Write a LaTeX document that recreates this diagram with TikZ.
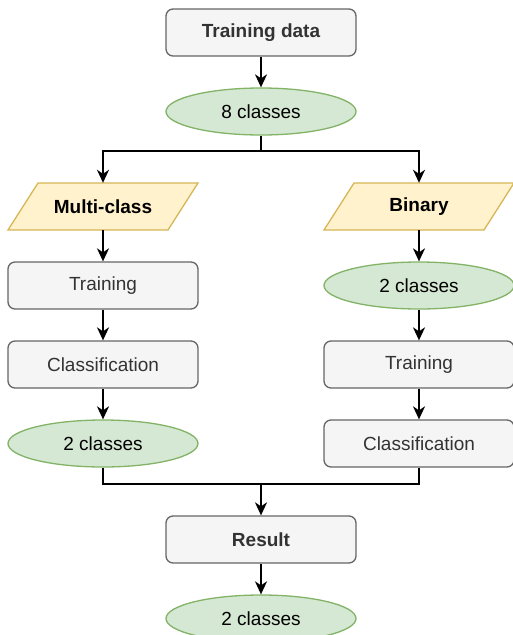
\documentclass[tikz,border=0pt]{standalone}
\usepackage{fontspec}
\setmainfont{Liberation Sans}
\usetikzlibrary{arrows.meta,shapes.geometric}
\definecolor{boxfill}{HTML}{F5F5F5}
\definecolor{boxdraw}{HTML}{666666}
\definecolor{boxtext}{HTML}{333333}
\definecolor{ellfill}{HTML}{D5E8D4}
\definecolor{elldraw}{HTML}{82B366}
\definecolor{parafill}{HTML}{FFF2CC}
\definecolor{paradraw}{HTML}{D6B656}
\begin{document}
\begin{tikzpicture}[x=1pt,y=-1pt,
  base/.style={minimum width=190pt,minimum height=47pt,inner sep=0pt,font=\fontsize{19}{22}\selectfont},
  graybox/.style={base,rectangle,rounded corners=7pt,draw=boxdraw,fill=boxfill,line width=1.3pt,text=boxtext},
  greenell/.style={base,ellipse,draw=elldraw,fill=ellfill,line width=1.3pt,text=black},
  paratext/.style={base,rectangle,font=\fontsize{19}{22}\selectfont\bfseries,text=black},
  parashape/.style={draw=paradraw,fill=parafill,line width=1.3pt},
  conn/.style={line width=1.8pt,black},
  arr/.style={conn,-{Stealth[length=13pt,width=12pt,inset=4pt]}}
]
\useasboundingbox (0,0) rectangle (512,635);
% top
\node[graybox,font=\fontsize{19}{22}\selectfont\bfseries] (td) at (261,32.5) {Training data};
\node[greenell] (c8) at (261,111.5) {8 classes};
% parallelograms
\draw[parashape] (38,183) -- (198,183) -- (168,230) -- (8,230) -- cycle;
\node[paratext] (mc) at (103,206.5) {Multi-class};
\draw[parashape] (354,183) -- (514,183) -- (484,230) -- (324,230) -- cycle;
\node[paratext] (bin) at (419,206.5) {Binary};
% left branch
\node[graybox] (trL) at (103,285.5) {Training};
\node[graybox] (clL) at (103,364.5) {Classification};
\node[greenell] (c2L) at (103,443.5) {2 classes};
% right branch
\node[greenell] (c2R) at (419,285.5) {2 classes};
\node[graybox] (trR) at (419,364.5) {Training};
\node[graybox] (clR) at (419,443.5) {Classification};
% bottom
\node[graybox,font=\fontsize{19}{22}\selectfont\bfseries] (res) at (261,539.5) {Result};
\node[greenell] (fin) at (261,618.5) {2 classes};
% connectors
\coordinate (split) at (261,151);
\coordinate (merge) at (261,484);
\draw[arr] (td) -- (c8);
\draw[conn] (c8.south) -- (split);
\draw[arr] (split) -| (mc.north);
\draw[arr] (split) -| (bin.north);
\draw[arr] (mc) -- (trL);
\draw[arr] (trL) -- (clL);
\draw[arr] (clL) -- (c2L);
\draw[arr] (bin) -- (c2R);
\draw[arr] (c2R) -- (trR);
\draw[arr] (trR) -- (clR);
\draw[conn] (c2L.south) |- (merge);
\draw[conn] (clR.south) |- (merge);
\draw[arr] (merge) -- (res);
\draw[arr] (res) -- (fin);
\end{tikzpicture}
\end{document}
